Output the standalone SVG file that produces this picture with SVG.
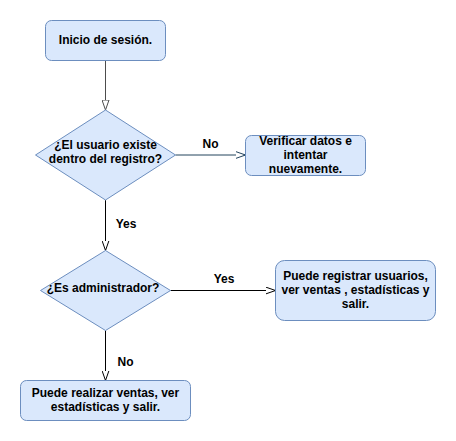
<svg xmlns="http://www.w3.org/2000/svg" width="456" height="441" viewBox="0 0 456 441">
<style>
.node{fill:#dae8fc;stroke:#6c8ebf;stroke-width:1}
.t{font-family:"Liberation Sans",Arial,sans-serif;font-size:12px;font-weight:bold;fill:#000;text-anchor:middle}
.e{fill:none;stroke-width:1}
</style>
<defs>
<marker id="a1" viewBox="0 0 10 8" refX="10" refY="4" markerWidth="10" markerHeight="8" markerUnits="userSpaceOnUse" orient="auto"><path d="M0,0.5 L10,4 L0,7.5 Z" fill="#fff" stroke="#4d4d4d"/></marker>
<marker id="a2" viewBox="0 0 10 8" refX="10" refY="4" markerWidth="10" markerHeight="8" markerUnits="userSpaceOnUse" orient="auto"><path d="M0,0.5 L10,4 L0,7.5 Z" fill="#fff" stroke="#23445d"/></marker>
<marker id="a3" viewBox="0 0 10 8" refX="10" refY="4" markerWidth="10" markerHeight="8" markerUnits="userSpaceOnUse" orient="auto"><path d="M0,0.5 L10,4 L0,7.5 Z" fill="#fff" stroke="#000"/></marker>
</defs>
<rect width="456" height="441" fill="#fff"/>
<g id="connectors">
<path class="e" d="M105.5,60.5 V110" stroke="#4d4d4d" marker-end="url(#a1)"/>
<path class="e" d="M175.5,155 H245.5" stroke="#23445d" marker-end="url(#a2)"/>
<path class="e" d="M105.5,200 V250.5" stroke="#000" marker-end="url(#a3)"/>
<path class="e" d="M170.5,290.5 H275.5" stroke="#000" marker-end="url(#a3)"/>
<path class="e" d="M105.5,330.5 V380.5" stroke="#000" marker-end="url(#a3)"/>
<text class="t" x="210.5" y="147.5">No</text>
<text class="t" x="126" y="228">Yes</text>
<text class="t" x="224" y="282.5">Yes</text>
<text class="t" x="125.5" y="366">No</text>
</g>
<g id="inicio">
<rect class="node" x="45.5" y="20.5" width="120" height="40" rx="6"/>
<text class="t" x="105.5" y="43.5">Inicio de sesión.</text>
</g>
<g id="existe">
<path class="node" d="M105.5,110 L175.5,155 L105.5,200 L35.5,155 Z"/>
<text class="t" x="105.5" y="149">¿El usuario existe</text>
<text class="t" x="105.5" y="163">dentro del registro?</text>
</g>
<g id="verificar">
<rect class="node" x="245.5" y="135.5" width="120" height="40" rx="6"/>
<text class="t" x="305.5" y="144.5">Verificar datos e</text>
<text class="t" x="305.5" y="158.5">intentar</text>
<text class="t" x="305.5" y="172.5">nuevamente.</text>
</g>
<g id="admin">
<path class="node" d="M105.5,250.5 L170.5,290.5 L105.5,330.5 L40.5,290.5 Z"/>
<text class="t" x="103" y="291.5">¿Es administrador?</text>
</g>
<g id="admin-si">
<rect class="node" x="275.5" y="260.5" width="160" height="60" rx="9"/>
<text class="t" x="355.5" y="279.5">Puede registrar usuarios,</text>
<text class="t" x="355.5" y="293.5">ver ventas , estadísticas y</text>
<text class="t" x="355.5" y="307.5">salir.</text>
</g>
<g id="admin-no">
<rect class="node" x="20.5" y="380.5" width="170" height="40" rx="6"/>
<text class="t" x="105.5" y="396.5">Puede realizar ventas, ver</text>
<text class="t" x="105.5" y="410.5">estadísticas y salir.</text>
</g>
</svg>
